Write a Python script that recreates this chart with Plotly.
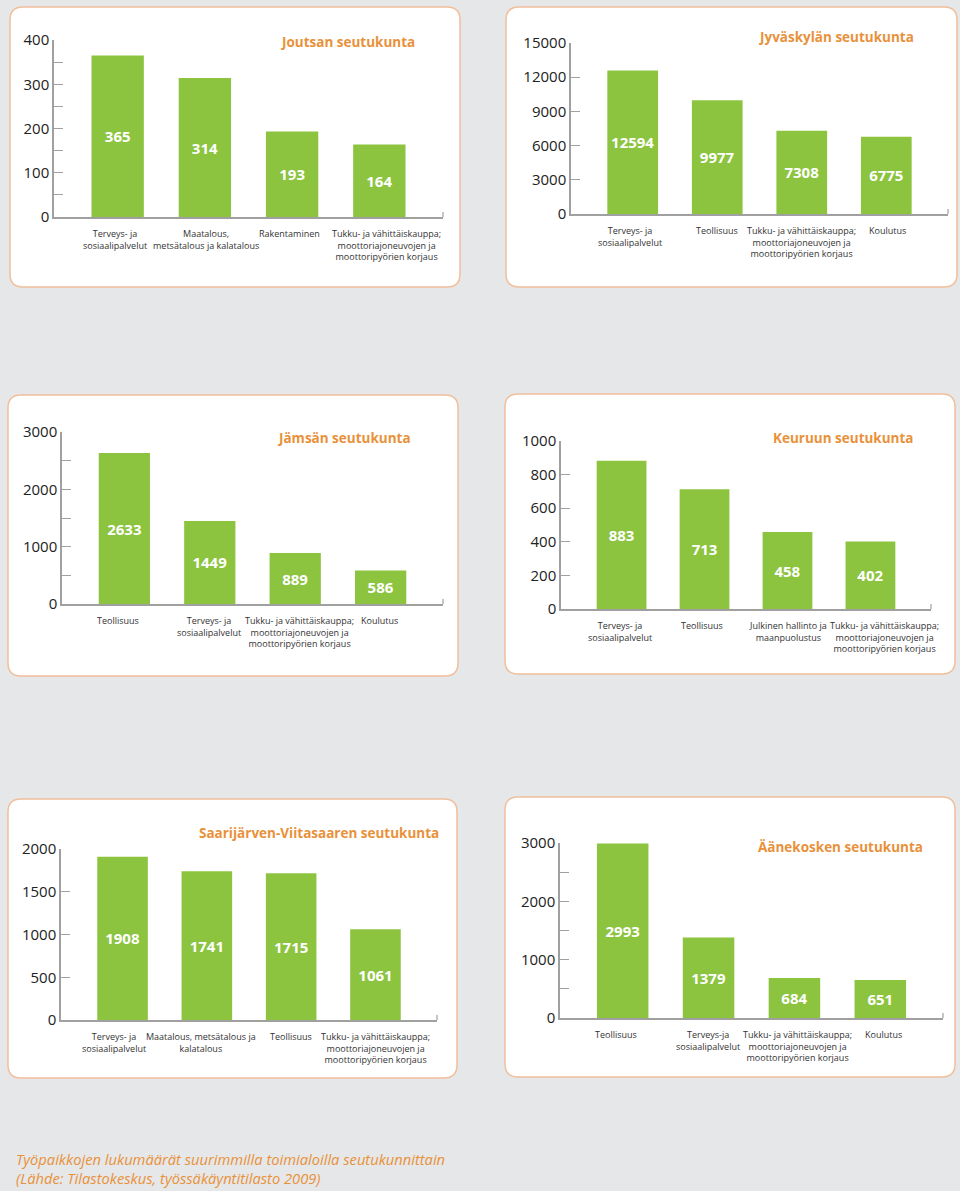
import plotly.graph_objects as go

# ───────────────────────────── data ─────────────────────────────
regions = [
    "Joutsan seutukunta",
    "Jyväskylän seutukunta",
    "Jämsän seutukunta",
    "Keuruun seutukunta",
    "Saarijärven-Viitasaaren seutukunta",
    "Äänekosken seutukunta",
]

TUKKU = "Tukku- ja vähittäiskauppa;<br>moottoriajoneuvojen ja<br>moottoripyörien korjaus"

joutsa_cats = ["Terveys- ja<br>sosiaalipalvelut", "Maatalous,<br>metsätalous ja kalatalous",
               "Rakentaminen", TUKKU]
joutsa_vals = [365, 314, 193, 164]

jkl_cats = ["Terveys- ja<br>sosiaalipalvelut", "Teollisuus", TUKKU, "Koulutus"]
jkl_vals = [12594, 9977, 7308, 6775]

jamsa_cats = ["Teollisuus", "Terveys- ja<br>sosiaalipalvelut", TUKKU, "Koulutus"]
jamsa_vals = [2633, 1449, 889, 586]

keuruu_cats = ["Terveys- ja<br>sosiaalipalvelut", "Teollisuus",
               "Julkinen hallinto ja<br>maanpuolustus", TUKKU]
keuruu_vals = [883, 713, 458, 402]

saari_cats = ["Terveys- ja<br>sosiaalipalvelut", "Maatalous, metsätalous ja<br>kalatalous",
              "Teollisuus", TUKKU]
saari_vals = [1908, 1741, 1715, 1061]

aane_cats = ["Teollisuus", "Terveys-ja<br>sosiaalipalvelut", TUKKU, "Koulutus"]
aane_vals = [2993, 1379, 684, 651]

y_max = [400, 15000, 3000, 1000, 2000, 3000]
y_step = [100, 3000, 1000, 200, 500, 1000]
y_minor = [50, None, 500, None, None, 500]

caption = ("Työpaikkojen lukumäärät suurimmilla toimialoilla seutukunnittain<br>"
           "(Lähde: Tilastokeskus, työssäkäyntitilasto 2009)")

cats = [joutsa_cats, jkl_cats, jamsa_cats, keuruu_cats, saari_cats, aane_cats]
vals = [joutsa_vals, jkl_vals, jamsa_vals, keuruu_vals, saari_vals, aane_vals]

# ─────────────────────────── layout (px) ─────────────────────────
W, H = 960, 1191
# card box (x0, y0, x1, y1), plot area (x0, x1, ytop, ybottom), title (x right, y)
cards = [(10, 7, 460, 287), (506, 7, 957, 287), (8, 395, 458, 676),
         (505, 394, 955, 674), (8, 799, 457, 1078), (505, 797, 955, 1077)]
plots = [(54, 443, 40, 217), (571, 948, 43, 214), (62, 443, 432, 604),
         (561, 931, 441, 609), (61, 437, 849, 1020), (560, 943, 843, 1018)]
titles = [(417, 42), (916, 37), (413, 438), (916, 438), (441, 833), (925, 847)]
# horizontal nudge (px) of the category labels, as in the original layout
label_nudge = [(-3, 1, -3, 7), (-3, 0, 0, 1), (-6, -1, 4, -1),
               (-2, -3, 1, 14), (-9, -6, 0, 0), (-7, -1, 3, 3)]

GREEN = "#8cc43f"
ORANGE = "#e8913a"
BORDER = "#f0bf9c"
AXIS = "#a0a0a0"
FONT = "Open Sans"


def px(x):
    return x / W


def py(y):
    return 1 - y / H


def rounded_rect(x0, y0, x1, y1, r=13):
    rx, ry = r / W, r / H
    a, b, c, d = px(x0), px(x1), py(y0), py(y1)   # c top, d bottom
    return (f"M {a+rx},{c} L {b-rx},{c} Q {b},{c} {b},{c-ry} "
            f"L {b},{d+ry} Q {b},{d} {b-rx},{d} "
            f"L {a+rx},{d} Q {a},{d} {a},{d+ry} "
            f"L {a},{c-ry} Q {a},{c} {a+rx},{c} Z")


fig = go.Figure()
shapes, annotations = [], []

for i in range(6):
    n = "" if i == 0 else str(i + 1)
    fig.add_trace(go.Bar(
        x=cats[i], y=vals[i],
        xaxis="x" + n, yaxis="y" + n,
        marker=dict(color=GREEN, line=dict(width=0)),
        width=0.6,
        texttemplate="<b>%{y:.0f}</b>",
        textposition="inside", insidetextanchor="middle", textangle=0,
        constraintext="none",
        textfont=dict(family=FONT, size=15, color="white"),
        hoverinfo="y", showlegend=False,
    ))

    x0, x1, yt, yb = plots[i]
    fig.layout["xaxis" + n] = dict(
        domain=[px(x0), px(x1)], anchor="y" + n, type="category",
        range=[-0.73, 3.73], showgrid=False, zeroline=False,
        showline=True, linecolor=AXIS, linewidth=1.5,
        showticklabels=False, ticks="", automargin=False,
        fixedrange=True,
    )
    ycfg = dict(
        domain=[py(yb), py(yt)], anchor="x" + n,
        range=[0, y_max[i]], dtick=y_step[i], tick0=0, tickformat="d",
        showgrid=False, zeroline=False,
        showline=True, linecolor=AXIS, linewidth=1.5,
        ticks="inside", ticklen=9, tickcolor=AXIS,
        tickfont=dict(family=FONT, size=15, color="#222"),
        automargin=False, fixedrange=True,
    )
    if y_minor[i]:
        ycfg["minor"] = dict(ticks="inside", ticklen=9, tickcolor=AXIS, dtick=y_minor[i])
    fig.layout["yaxis" + n] = ycfg

    # category labels under the axis, placed on the category scale
    for j, c in enumerate(cats[i]):
        annotations.append(dict(text=c, xref="x" + n, x=c, yref="paper", y=py(yb + 8),
                                xanchor="center", yanchor="top", align="center",
                                xshift=label_nudge[i][j], showarrow=False,
                                font=dict(family=FONT, size=9, color="#333")))

    # small end tick on the right of the x axis line
    shapes.append(dict(type="line", xref="paper", yref="paper",
                       x0=px(x1), x1=px(x1), y0=py(yb), y1=py(yb - 5),
                       line=dict(color=AXIS, width=1.2)))

    cx0, cy0, cx1, cy1 = cards[i]
    shapes.append(dict(type="path", xref="paper", yref="paper",
                       path=rounded_rect(cx0, cy0, cx1, cy1),
                       fillcolor="white", line=dict(color=BORDER, width=1.5),
                       layer="below"))
    tx, ty = titles[i]
    annotations.append(dict(text=f"<b>{regions[i]}</b>", xref="paper", yref="paper",
                            x=px(tx), y=py(ty), xanchor="right", yanchor="middle",
                            showarrow=False,
                            font=dict(family=FONT, size=13.5, color=ORANGE)))

annotations.append(dict(text=f"<i>{caption}</i>", xref="paper", yref="paper",
                        x=px(14), y=py(1168), xanchor="left", yanchor="middle",
                        align="left", showarrow=False,
                        font=dict(family=FONT, size=14.7, color=ORANGE)))

fig.update_layout(
    width=W, height=H,
    margin=dict(l=0, r=0, t=0, b=0, pad=0, autoexpand=False),
    paper_bgcolor="#e6e7e8",
    plot_bgcolor="rgba(0,0,0,0)",
    shapes=shapes, annotations=annotations,
    bargap=0.4,
)

fig.write_html(
    "out.html",
    config={"displayModeBar": False},
    post_script=(
        "document.documentElement.style.overflow='hidden';"
        "document.body.style.margin='0';"
        "document.body.style.overflow='hidden';"
        "document.body.style.background='#e6e7e8';"
        "var d=document.getElementById('{plot_id}');"
        "d.style.position='fixed';d.style.top='0px';d.style.left='0px';"
    ),
)
